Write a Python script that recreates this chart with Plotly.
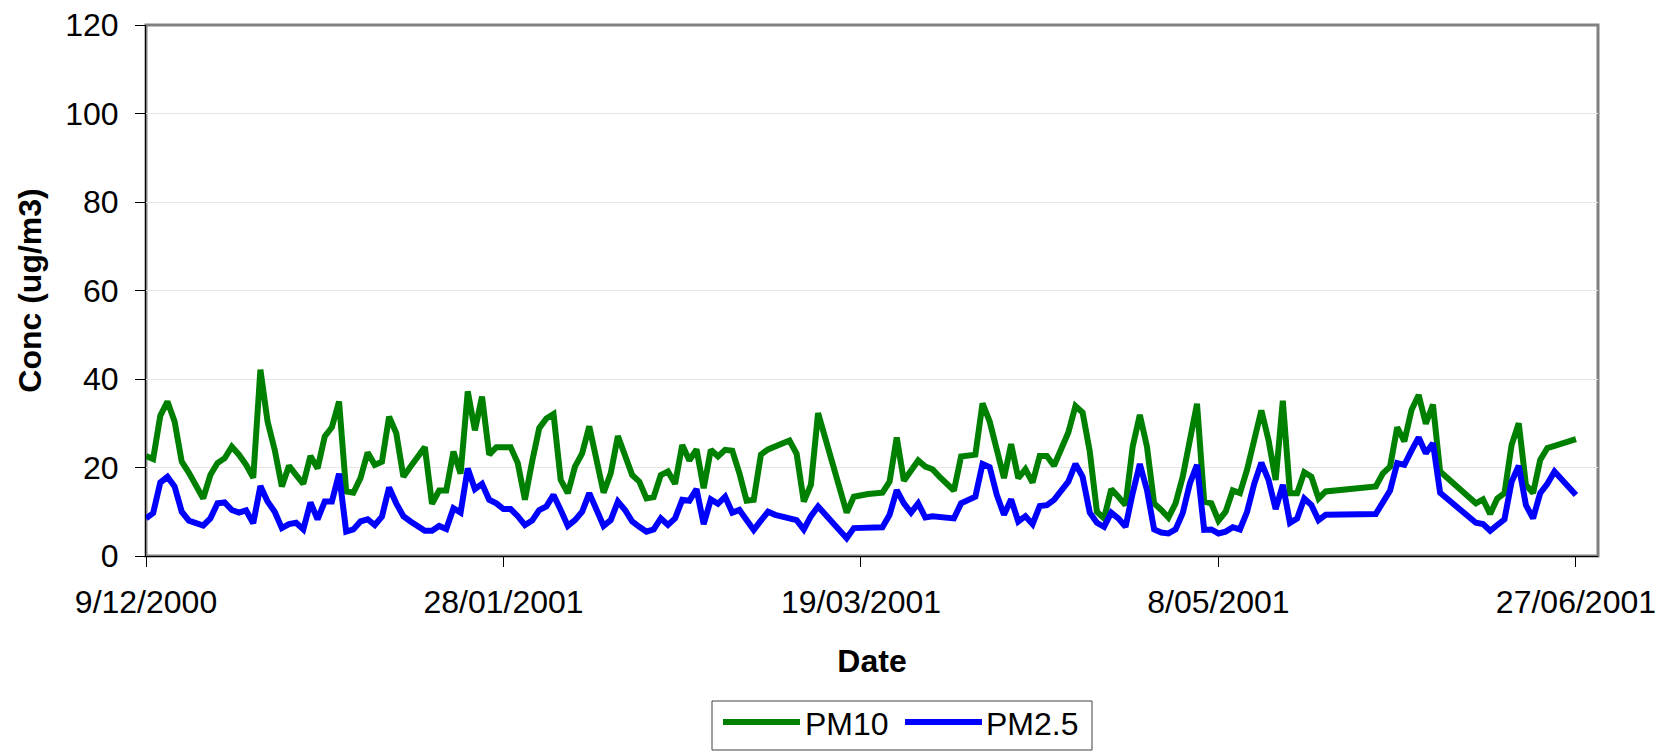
import pandas as pd
import plotly.graph_objects as go

# ---------------- data ----------------
start_date = "2000-12-09"
day_offsets = [0, 1, 2, 3, 4, 5, 6, 8, 9, 10, 11, 12, 13, 14, 15, 16, 17, 18, 19, 20,
               21, 22, 23, 24, 25, 26, 27, 28, 29, 30, 31, 32, 33, 34, 35, 36, 37, 38, 39, 40,
               41, 42, 43, 44, 45, 46, 47, 48, 49, 50, 51, 52, 53, 54, 55, 56, 57, 58, 59, 60,
               61, 62, 63, 64, 65, 66, 67, 68, 69, 70, 71, 72, 73, 74, 75, 76, 77, 78, 79, 80,
               81, 82, 83, 84, 85, 86, 87, 88, 90, 91, 92, 93, 94, 98, 99, 101, 103, 104, 105, 106,
               107, 108, 109, 110, 111, 112, 113, 114, 115, 116, 117, 118, 119, 120, 121, 122, 123, 124, 125, 126,
               127, 128, 129, 130, 131, 132, 133, 134, 135, 136, 137, 138, 139, 140, 141, 142, 143, 144, 145, 146,
               147, 148, 149, 150, 151, 152, 153, 154, 155, 156, 157, 158, 159, 160, 161, 162, 163, 164, 165, 172,
               173, 174, 175, 176, 177, 178, 179, 180, 181, 186, 187, 188, 189, 190, 191, 192, 193, 194, 195, 196,
               197, 200]

pm10 = [22.6, 21.9, 31.7, 34.9, 30.4, 21.3, 18.8, 13.0, 18.3, 21.0, 22.1, 24.7, 22.9, 20.6, 17.7, 42.1, 30.4, 24.0, 15.7, 20.4,
        18.3, 16.3, 22.6, 19.8, 27.0, 29.1, 34.9, 14.6, 14.3, 17.6, 23.4, 20.6, 21.3, 31.5, 27.8, 17.9, 20.2, 22.2, 24.6, 11.8,
        14.8, 14.8, 23.6, 18.6, 37.2, 28.4, 36.0, 22.9, 24.6, 24.6, 24.6, 21.0, 12.7, 21.3, 28.9, 31.1, 32.1, 17.2, 14.2, 20.2,
        23.2, 29.3, 22.5, 14.3, 18.7, 27.1, 22.7, 18.3, 16.8, 13.0, 13.3, 18.3, 19.1, 16.3, 25.1, 21.6, 24.1, 15.3, 24.0, 22.5,
        24.0, 23.8, 18.7, 12.5, 12.7, 22.9, 24.1, 24.8, 26.1, 23.1, 12.3, 16.1, 32.3, 9.8, 13.4, 14.0, 14.3, 16.8, 26.8, 17.0,
        19.5, 21.6, 20.2, 19.6, 17.9, 16.4, 14.8, 22.5, 22.6, 22.9, 34.5, 30.4, 24.0, 17.6, 25.3, 17.6, 19.6, 16.6, 22.6, 22.6,
        20.4, 24.1, 27.9, 33.9, 32.4, 23.6, 10.0, 8.5, 15.1, 13.4, 11.5, 24.7, 31.9, 24.7, 11.9, 10.4, 8.7, 11.9, 17.9, 26.2,
        34.4, 12.3, 11.9, 8.0, 10.0, 14.8, 14.2, 19.5, 27.0, 32.9, 26.2, 17.2, 35.1, 14.2, 14.2, 18.9, 17.9, 13.0, 14.6, 15.7,
        18.7, 20.2, 29.1, 25.9, 33.0, 36.4, 29.9, 34.2, 19.1, 11.9, 12.8, 9.5, 13.0, 14.2, 25.1, 30.0, 16.1, 14.2, 21.7, 24.4,
        24.9, 26.4]

pm25 = [8.5, 9.7, 16.6, 17.9, 15.7, 10.0, 8.0, 6.9, 8.5, 11.9, 12.1, 10.4, 9.8, 10.3, 7.4, 15.8, 12.3, 10.0, 6.3, 7.2,
        7.5, 6.0, 12.1, 8.3, 12.3, 12.3, 18.6, 5.5, 6.0, 7.8, 8.3, 7.0, 8.9, 15.5, 11.9, 9.0, 7.8, 6.6, 5.7, 5.7,
        6.8, 6.1, 10.8, 9.8, 19.8, 15.1, 16.3, 12.7, 11.9, 10.6, 10.6, 9.0, 7.0, 8.0, 10.4, 11.2, 13.8, 10.4, 6.8, 8.1,
        10.0, 14.2, 10.4, 6.8, 8.1, 12.3, 10.4, 7.8, 6.6, 5.5, 6.0, 8.5, 7.0, 8.5, 12.7, 12.5, 15.1, 7.2, 12.8, 11.8,
        13.4, 9.8, 10.4, 8.0, 5.9, 8.0, 10.0, 9.3, 8.3, 8.1, 6.0, 9.0, 11.2, 4.0, 6.3, 6.5, 6.5, 9.3, 14.9, 11.9,
        9.8, 11.9, 8.7, 9.0, 8.9, 8.7, 8.5, 11.9, 12.7, 13.4, 20.8, 20.1, 13.8, 9.3, 12.8, 7.8, 9.0, 7.2, 11.3, 11.5,
        12.7, 14.8, 16.8, 20.8, 17.9, 9.8, 7.5, 6.6, 9.8, 8.5, 6.6, 14.2, 20.8, 14.9, 6.0, 5.3, 5.1, 6.0, 9.7, 16.4,
        20.6, 5.9, 6.0, 5.1, 5.5, 6.5, 6.0, 10.0, 16.3, 21.1, 17.2, 10.6, 16.1, 7.5, 8.5, 13.0, 11.5, 8.1, 9.3, 9.5,
        11.9, 14.8, 21.0, 20.6, 23.8, 26.8, 23.2, 25.5, 14.3, 7.5, 7.2, 5.7, 7.0, 8.3, 16.8, 20.4, 11.5, 8.5, 14.2, 16.3,
        19.1, 13.8]

tick_dates = ["2000-12-09", "2001-01-28", "2001-03-19", "2001-05-08", "2001-06-27"]
tick_text = ["9/12/2000", "28/01/2001", "19/03/2001", "8/05/2001", "27/06/2001"]
y_ticks = [0, 20, 40, 60, 80, 100, 120]

series_names = ["PM10", "PM2.5"]
series_colors = ["#008000", "#0000FF"]

# ---------------- figure ----------------
dates = pd.Timestamp(start_date) + pd.to_timedelta(day_offsets, unit="D")

W, H = 1665, 753
ML, MR, MT, MB = 146, 67, 25, 197
PW, PH = W - ML - MR, H - MT - MB
FONT = "Arial, Liberation Sans, sans-serif"
FS = 32


def px_x(px):
    return (px - ML) / PW


def px_y(py):
    return (H - MB - py) / PH


fig = go.Figure()
for name, vals, col in zip(series_names, [pm10, pm25], series_colors):
    fig.add_trace(go.Scatter(x=dates, y=vals, mode="lines", name=name,
                             line=dict(color=col, width=6, shape="linear"),
                             showlegend=False))

shapes = [
    # plot-area frame
    dict(type="rect", xref="paper", yref="paper", x0=0, x1=1, y0=0, y1=1,
         line=dict(color="#808080", width=3), layer="below"),
    # legend box
    dict(type="rect", xref="paper", yref="paper",
         x0=px_x(712), x1=px_x(1092), y0=px_y(750), y1=px_y(701),
         line=dict(color="#404040", width=1), fillcolor="white"),
]
annotations = []
legend_items = [(723, 800, 803), (905, 982, 984)]
for (lx0, lx1, tx), name, col in zip(legend_items, series_names, series_colors):
    shapes.append(dict(type="line", xref="paper", yref="paper",
                       x0=px_x(lx0), x1=px_x(lx1), y0=px_y(722), y1=px_y(722),
                       line=dict(color=col, width=6)))
    annotations.append(dict(xref="paper", yref="paper", x=px_x(tx), y=px_y(724),
                            xanchor="left", yanchor="middle", showarrow=False,
                            text=name, font=dict(family=FONT, size=FS, color="black")))

fig.update_layout(
    width=W, height=H,
    margin=dict(l=ML, r=MR, t=MT, b=MB, autoexpand=False),
    paper_bgcolor="white", plot_bgcolor="white",
    font=dict(family=FONT, size=FS, color="black"),
    shapes=shapes, annotations=annotations,
    showlegend=False,
)

fig.update_xaxes(
    type="date", automargin=False,
    range=["2000-12-09", "2001-06-30 02:00"],
    tickvals=tick_dates, ticktext=tick_text,
    ticks="outside", ticklen=10, tickcolor="black", tickwidth=1,
    ticklabelstandoff=8,
    showgrid=False, zeroline=False,
    showline=True, linecolor="black", linewidth=1,
    tickfont=dict(family=FONT, size=FS),
    title=dict(text="<b>Date</b>", font=dict(family=FONT, size=FS), standoff=30),
)
fig.update_yaxes(
    range=[0, 120], tickvals=y_ticks, automargin=False,
    ticks="outside", ticklen=10, tickcolor="black", tickwidth=1,
    ticklabelstandoff=10,
    showgrid=True, gridcolor="#e6e6e6", gridwidth=1,
    zeroline=False,
    showline=True, linecolor="black", linewidth=1,
    tickfont=dict(family=FONT, size=FS),
    title=dict(text="<b>Conc (ug/m3)</b>", font=dict(family=FONT, size=FS), standoff=14),
)

fig.write_html("out.html",
               config={"displayModeBar": False},
               post_script="document.body.style.margin='0px'; document.body.style.overflow='hidden';")
